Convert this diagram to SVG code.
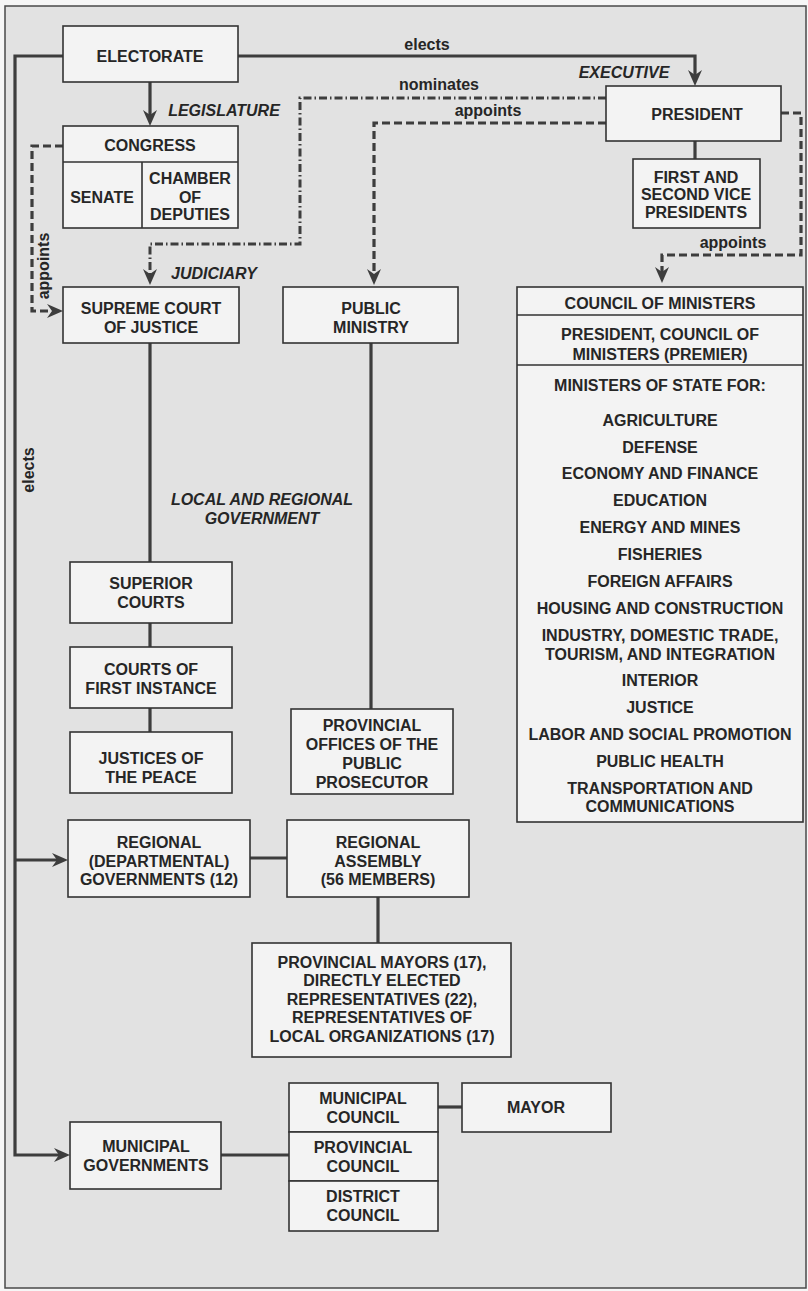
<svg xmlns="http://www.w3.org/2000/svg" width="808" height="1291" viewBox="0 0 808 1291">
<style>
.bg{fill:#e2e2e2;stroke:#4a4a4a;stroke-width:1.5}
.box{fill:#f3f3f3;stroke:#333;stroke-width:1.6}
.div{stroke:#333;stroke-width:1.6;fill:none}
.t{font-family:"Liberation Sans",Arial,Helvetica,sans-serif;font-weight:bold;font-size:16px;fill:#262626;text-anchor:middle}
.i{font-style:italic}
.s{stroke:#3d3d3d;stroke-width:3.2;fill:none}
.dash{stroke:#3d3d3d;stroke-width:3.2;fill:none;stroke-dasharray:8 4}
.dd{stroke:#3d3d3d;stroke-width:3;fill:none;stroke-dasharray:8 3 1.5 3}
</style>
<defs>
<marker id="ah" markerUnits="userSpaceOnUse" viewBox="0 0 16 14" refX="8" refY="7" markerWidth="16" markerHeight="14" orient="auto">
<path d="M0,0 L16,7 L0,14 L5,7 Z" fill="#3d3d3d"/>
</marker>
</defs>
<rect x="0" y="0" width="808" height="1291" fill="#f6f6f6"/>
<rect class="bg" x="5" y="6" width="801" height="1282"/>

<g id="connectors">
<path class="s" d="M63,56 H15 V1155 H62" marker-end="url(#ah)"/>
<path class="s" d="M15,860 H60" marker-end="url(#ah)"/>
<path class="s" d="M238,56 H695 V78" marker-end="url(#ah)"/>
<path class="s" d="M150,82 V118" marker-end="url(#ah)"/>
<path class="s" d="M695,141 V159"/>
<path class="s" d="M150,343 V562 M150,623 V647 M150,708 V732"/>
<path class="s" d="M371,343 V709"/>
<path class="s" d="M250,858 H287"/>
<path class="s" d="M378,897 V943"/>
<path class="s" d="M221,1155 H289"/>
<path class="s" d="M438,1107 H462"/>
<path class="dd" d="M606,98 H300 V244 H150 V277" marker-end="url(#ah)"/>
<path class="dash" d="M606,123 H374 V277" marker-end="url(#ah)"/>
<path class="dash" d="M63,146 H32 V311 H55" marker-end="url(#ah)"/>
<path class="dash" d="M781,113 H801 V255 H662 V275" marker-end="url(#ah)"/>
<text class="t" x="427" y="50">elects</text>
<text class="t" x="439" y="90">nominates</text>
<text class="t" x="488" y="116">appoints</text>
<text class="t" x="733" y="248">appoints</text>
<text class="t" transform="translate(34,470) rotate(-90)">elects</text>
<text class="t" transform="translate(49,266) rotate(-90)">appoints</text>
<text class="t i" x="224" y="116">LEGISLATURE</text>
<text class="t i" x="624" y="78">EXECUTIVE</text>
<text class="t i" x="214" y="279">JUDICIARY</text>
<text class="t i" x="262" y="505">LOCAL AND REGIONAL</text>
<text class="t i" x="262" y="524">GOVERNMENT</text>
</g>

<g id="electorate">
<rect class="box" x="63" y="26" width="175" height="56"/>
<text class="t" x="150" y="62">ELECTORATE</text>
</g>

<g id="congress">
<rect class="box" x="63" y="126" width="175" height="102"/>
<path class="div" d="M63,162 H238 M142,162 V228"/>
<text class="t" x="150" y="151">CONGRESS</text>
<text class="t" x="102" y="203">SENATE</text>
<text class="t" x="190" y="184">CHAMBER</text>
<text class="t" x="190" y="203">OF</text>
<text class="t" x="190" y="220">DEPUTIES</text>
</g>

<g id="president">
<rect class="box" x="606" y="86" width="175" height="55"/>
<text class="t" x="697" y="120">PRESIDENT</text>
</g>

<g id="vice-presidents">
<rect class="box" x="633" y="159" width="127" height="69"/>
<text class="t" x="696" y="183">FIRST AND</text>
<text class="t" x="696" y="200">SECOND VICE</text>
<text class="t" x="696" y="218">PRESIDENTS</text>
</g>

<g id="supreme-court">
<rect class="box" x="63" y="287" width="176" height="56"/>
<text class="t" x="151" y="314">SUPREME COURT</text>
<text class="t" x="151" y="333">OF JUSTICE</text>
</g>

<g id="public-ministry">
<rect class="box" x="283" y="287" width="175" height="56"/>
<text class="t" x="371" y="314">PUBLIC</text>
<text class="t" x="371" y="333">MINISTRY</text>
</g>

<g id="council-of-ministers">
<rect class="box" x="517" y="287" width="286" height="535"/>
<path class="div" d="M517,315 H803 M517,365 H803"/>
<text class="t" x="660" y="309">COUNCIL OF MINISTERS</text>
<text class="t" x="660" y="340">PRESIDENT, COUNCIL OF</text>
<text class="t" x="660" y="360">MINISTERS (PREMIER)</text>
<text class="t" x="660" y="391">MINISTERS OF STATE FOR:</text>
<text class="t" x="660" y="426">AGRICULTURE</text>
<text class="t" x="660" y="453">DEFENSE</text>
<text class="t" x="660" y="479">ECONOMY AND FINANCE</text>
<text class="t" x="660" y="506">EDUCATION</text>
<text class="t" x="660" y="533">ENERGY AND MINES</text>
<text class="t" x="660" y="560">FISHERIES</text>
<text class="t" x="660" y="587">FOREIGN AFFAIRS</text>
<text class="t" x="660" y="614">HOUSING AND CONSTRUCTION</text>
<text class="t" x="660" y="641">INDUSTRY, DOMESTIC TRADE,</text>
<text class="t" x="660" y="660">TOURISM, AND INTEGRATION</text>
<text class="t" x="660" y="686">INTERIOR</text>
<text class="t" x="660" y="713">JUSTICE</text>
<text class="t" x="660" y="740">LABOR AND SOCIAL PROMOTION</text>
<text class="t" x="660" y="767">PUBLIC HEALTH</text>
<text class="t" x="660" y="794">TRANSPORTATION AND</text>
<text class="t" x="660" y="812">COMMUNICATIONS</text>
</g>

<g id="superior-courts">
<rect class="box" x="70" y="562" width="162" height="61"/>
<text class="t" x="151" y="589">SUPERIOR</text>
<text class="t" x="151" y="608">COURTS</text>
</g>

<g id="courts-first-instance">
<rect class="box" x="70" y="647" width="162" height="61"/>
<text class="t" x="151" y="675">COURTS OF</text>
<text class="t" x="151" y="694">FIRST INSTANCE</text>
</g>

<g id="justices-peace">
<rect class="box" x="70" y="732" width="162" height="61"/>
<text class="t" x="151" y="764">JUSTICES OF</text>
<text class="t" x="151" y="783">THE PEACE</text>
</g>

<g id="provincial-offices">
<rect class="box" x="291" y="709" width="162" height="85"/>
<text class="t" x="372" y="731">PROVINCIAL</text>
<text class="t" x="372" y="750">OFFICES OF THE</text>
<text class="t" x="372" y="769">PUBLIC</text>
<text class="t" x="372" y="788">PROSECUTOR</text>
</g>

<g id="regional-governments">
<rect class="box" x="68" y="820" width="182" height="77"/>
<text class="t" x="159" y="848">REGIONAL</text>
<text class="t" x="159" y="867">(DEPARTMENTAL)</text>
<text class="t" x="159" y="885">GOVERNMENTS (12)</text>
</g>

<g id="regional-assembly">
<rect class="box" x="287" y="820" width="182" height="77"/>
<text class="t" x="378" y="848">REGIONAL</text>
<text class="t" x="378" y="867">ASSEMBLY</text>
<text class="t" x="378" y="885">(56 MEMBERS)</text>
</g>

<g id="assembly-members">
<rect class="box" x="252" y="943" width="259" height="114"/>
<text class="t" x="382" y="968">PROVINCIAL MAYORS (17),</text>
<text class="t" x="382" y="986">DIRECTLY ELECTED</text>
<text class="t" x="382" y="1005">REPRESENTATIVES (22),</text>
<text class="t" x="382" y="1023">REPRESENTATIVES OF</text>
<text class="t" x="382" y="1042">LOCAL ORGANIZATIONS (17)</text>
</g>

<g id="municipal-governments">
<rect class="box" x="70" y="1122" width="151" height="67"/>
<text class="t" x="146" y="1152">MUNICIPAL</text>
<text class="t" x="146" y="1171">GOVERNMENTS</text>
</g>

<g id="municipal-council">
<rect class="box" x="289" y="1083" width="149" height="49"/>
<text class="t" x="363" y="1104">MUNICIPAL</text>
<text class="t" x="363" y="1123">COUNCIL</text>
</g>

<g id="provincial-council">
<rect class="box" x="289" y="1132" width="149" height="49"/>
<text class="t" x="363" y="1153">PROVINCIAL</text>
<text class="t" x="363" y="1172">COUNCIL</text>
</g>

<g id="district-council">
<rect class="box" x="289" y="1181" width="149" height="50"/>
<text class="t" x="363" y="1202">DISTRICT</text>
<text class="t" x="363" y="1221">COUNCIL</text>
</g>

<g id="mayor">
<rect class="box" x="462" y="1083" width="149" height="49"/>
<text class="t" x="536" y="1113">MAYOR</text>
</g>
</svg>
